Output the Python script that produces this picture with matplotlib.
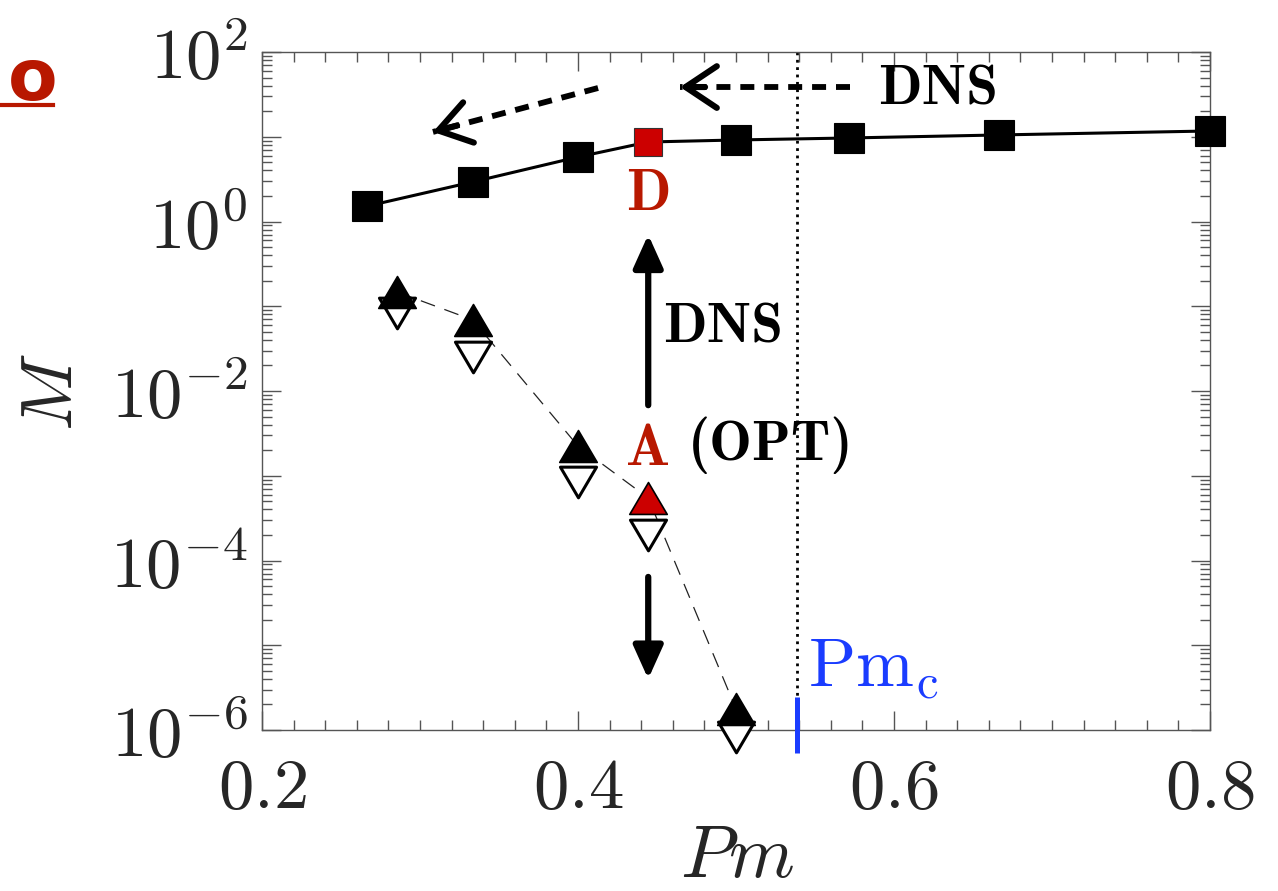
import os
import numpy as np
import matplotlib
matplotlib.use("Agg")
import matplotlib.pyplot as plt
from matplotlib.ticker import LogLocator, FixedLocator, FuncFormatter, MultipleLocator
from matplotlib.lines import Line2D
from matplotlib.path import Path
from matplotlib.font_manager import FontProperties

plt.rcParams['mathtext.fontset'] = 'cm'
plt.rcParams['font.family'] = ['DejaVu Serif']

_cmb = os.path.join(matplotlib.get_data_path(), 'fonts', 'ttf', 'cmb10.ttf')
def bold_cm(size):
    if os.path.exists(_cmb):
        return FontProperties(fname=_cmb, size=size)
    return FontProperties(family='DejaVu Serif', weight='bold', size=size)

# ---------------- data ----------------
pm_dns = [4/15, 1/3, 0.4, 4/9, 0.5, 4/7, 2/3, 0.8]
m_dns = [1.52, 2.93, 5.77, 8.67, 9.16, 9.67, 10.5, 11.7]
pm_opt = [2/7, 1/3, 0.4, 4/9, 0.5]
m_opt_up = [0.147, 0.069, 2.24e-3, 5.46e-4, 1.77e-6]
m_opt_down = [0.083, 0.0252, 8.4e-4, 2.0e-4, 8.3e-7]
highlight_pm = 4/9
pm_c = 0.5386
xticks = [0.2, 0.4, 0.6, 0.8]
ytick_exps = [2, 0, -2, -4, -6]

DARK = '#262626'
RED = '#CC0000'
TXTRED = '#B81800'
BLUE = '#1A3CFF'

fig = plt.figure(figsize=(12.78, 8.91), dpi=100)
ax = fig.add_axes([262/1278, 1-730/891, 948/1278, 678/891])
ax.set_yscale('log')
ax.set_xlim(0.2, 0.8)
ax.set_ylim(1e-6, 1e2)

# triangle markers (a bit flatter than default)
up_tri = Path([(0, 0.85), (-1, -0.85), (1, -0.85), (0, 0.85)],
              [Path.MOVETO, Path.LINETO, Path.LINETO, Path.CLOSEPOLY])
down_tri = Path([(0, -0.85), (-1, 0.85), (1, 0.85), (0, -0.85)],
                [Path.MOVETO, Path.LINETO, Path.LINETO, Path.CLOSEPOLY])

# DNS curve
ax.plot(pm_dns, m_dns, '-', color='black', lw=2.2, zorder=3)
for x, y in zip(pm_dns, m_dns):
    hl = abs(x - highlight_pm) < 1e-9
    ax.plot([x], [y], marker='s', ms=21 if not hl else 20,
            mfc=RED if hl else 'black', mec='#333333' if hl else 'black',
            mew=0.8, ls='none', zorder=4, clip_on=False)

# OPT curve
ax.plot(pm_opt, m_opt_up, '--', color='#222222', lw=0.9, dashes=(12, 8), zorder=2)
for x, y in zip(pm_opt, m_opt_down):
    ax.plot([x], [y], marker=down_tri, ms=26, mfc='white', mec='black',
            mew=2.2, ls='none', zorder=4, clip_on=False)
for x, y in zip(pm_opt, m_opt_up):
    hl = abs(x - highlight_pm) < 1e-9
    ax.plot([x], [y], marker=up_tri, ms=27, mfc=RED if hl else 'black',
            mec='black', mew=1.2, ls='none', zorder=5, clip_on=False)

# critical Pm
trans = ax.get_xaxis_transform()
ax.plot([pm_c, pm_c], [1.0, 0.049], ls=':', color='black', lw=2.0,
        transform=trans, zorder=1)
ax.plot([pm_c, pm_c], [0.049, -0.034], ls='-', color=BLUE, lw=3.6,
        transform=trans, zorder=6, clip_on=False, solid_capstyle='butt')
ax.text(0.5456, 3.3e-6, r'$\mathrm{Pm_c}$', color=BLUE, fontsize=50,
        ha='left', va='baseline')

# solid arrows
solid_style = '-|>,head_length=0.8,head_width=0.36'
ax.annotate('', xy=(highlight_pm, 0.70), xytext=(highlight_pm, 6.8e-3),
            arrowprops=dict(arrowstyle=solid_style, lw=4.5, color='black',
                            shrinkA=0, shrinkB=0, mutation_scale=25))
ax.annotate('', xy=(highlight_pm, 4.0e-6), xytext=(highlight_pm, 6.4e-5),
            arrowprops=dict(arrowstyle=solid_style, lw=4.5, color='black',
                            shrinkA=0, shrinkB=0, mutation_scale=25))

# dashed arrows
def dashed_arrow(x0, y0, x1, y1):
    ax.plot([x0, x1], [y0, y1], color='black', lw=4.2, dashes=(2.4, 1.7),
            solid_capstyle='butt', dash_capstyle='butt', zorder=3)
    p0 = ax.transData.transform((x0, y0))
    p1 = ax.transData.transform((x1, y1))
    d = (p0 - p1) / np.hypot(*(p0 - p1))
    ax.annotate('', xy=(x1, y1), xytext=(d[0] * 18, d[1] * 18),
                textcoords='offset points',
                arrowprops=dict(arrowstyle='->,head_length=0.9,head_width=0.6',
                                lw=4.4, color='black', shrinkA=0, shrinkB=0,
                                mutation_scale=25))

fig.canvas.draw()
dashed_arrow(0.572, 38.6, 0.4646, 38.6)
dashed_arrow(0.4127, 37.6, 0.3082, 11.4)

# texts
ax.text(0.5899, 35.6, 'DNS', fontproperties=bold_cm(41), ha='left', va='center')
ax.text(0.4538, 0.0553, 'DNS', fontproperties=bold_cm(41), ha='left', va='center')
ax.text(highlight_pm, 2.0, 'D', fontproperties=bold_cm(42), color=TXTRED,
        ha='center', va='center')
ax.text(highlight_pm, 2.0e-3, 'A', fontproperties=bold_cm(42), color=TXTRED,
        ha='center', va='center')
ax.text(0.4696, 2.3e-3, '(OPT)', fontproperties=bold_cm(41), ha='left', va='center')

# panel fragment at top-left
fig.text(8/1278, 1-100/891, 'o', fontsize=52, fontweight='bold', color=TXTRED,
         family='DejaVu Sans', ha='left', va='baseline')
fig.add_artist(Line2D([0, 53/1278], [1-105/891, 1-105/891], color=TXTRED, lw=3))

# axes styling
ax.xaxis.set_major_locator(FixedLocator(xticks))
ax.xaxis.set_minor_locator(MultipleLocator(0.02))
ax.yaxis.set_major_locator(LogLocator(base=10, numticks=20))
ax.yaxis.set_minor_locator(LogLocator(base=10, subs=np.arange(2, 10), numticks=20))
ax.xaxis.set_major_formatter(FuncFormatter(lambda v, p: r'$%.1f$' % v))
ax.yaxis.set_major_formatter(FuncFormatter(
    lambda v, p: (r'$10^{%d}$' % round(np.log10(v))) if round(np.log10(v)) in ytick_exps else ''))

for s in ax.spines.values():
    s.set_color('#555555')
    s.set_linewidth(1.0)
ax.tick_params(which='both', direction='in', top=True, right=True,
               colors='#555555', labelcolor=DARK, width=1.0)
ax.tick_params(which='major', length=14, labelsize=51)
ax.tick_params(which='minor', length=7)
ax.tick_params(axis='x', which='major', pad=17)
ax.tick_params(axis='y', which='major', pad=10)

ax.set_xlabel(r'$Pm$', fontsize=54, color=DARK)
ax.set_ylabel(r'$M$', fontsize=52, color=DARK)
ax.xaxis.label.set_va('center')
ax.yaxis.label.set_va('center')
ax.xaxis.set_label_coords(0.501, -0.187)
ax.yaxis.set_label_coords(-0.2215, 0.4985)

fig.savefig('out.png', dpi=100)
